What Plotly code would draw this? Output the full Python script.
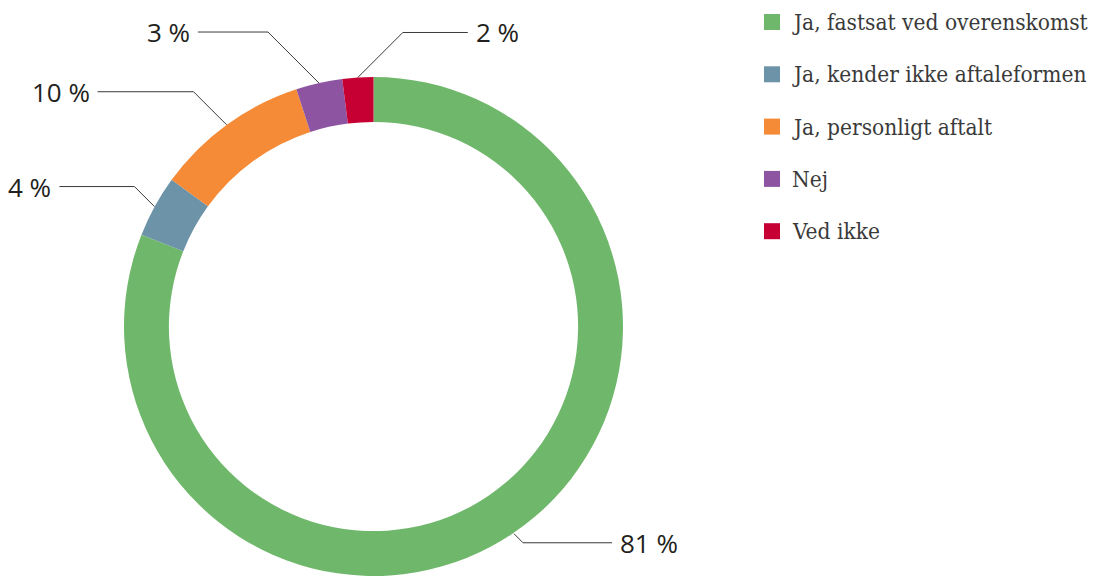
import math
import plotly.graph_objects as go

categories = ["Ja, fastsat ved overenskomst", "Ja, kender ikke aftaleformen",
              "Ja, personligt aftalt", "Nej", "Ved ikke"]
values = [81, 4, 10, 3, 2]
labels = ["81 %", "4 %", "10 %", "3 %", "2 %"]
colors = ["#6fb86b", "#6d93a8", "#f58a37", "#8d55a1", "#c60032"]

W, H = 1099, 576
cx, cy, R = 373.5, 327, 250   # donut centre and radius in px

# leader line layout per slice: side, diagonal length, horizontal length
sides = [1, -1, -1, -1, 1]
diag = [9, 20, 33, 51, 45]
horiz = [89, 75, 96, 70, 65]

label_font = dict(family="Open Sans, sans-serif", size=26, color="#231f20")
legend_font = dict(family="DejaVu Serif Condensed, DejaVu Serif, serif", size=22.5, color="#3a3a3a")


def px(x, y):
    return x / W, 1 - y / H


fig = go.Figure()
fig.add_trace(go.Pie(
    labels=categories, values=values, hole=0.82, sort=False,
    direction="clockwise", rotation=0,
    marker=dict(colors=colors, line=dict(width=0)),
    textinfo="none", hoverinfo="label+value", showlegend=False,
    domain=dict(x=[(cx - R) / W, (cx + R) / W], y=[max(0, (H - cy - R) / H), (H - cy + R) / H]),
))

total = sum(values)
cum = 0
shapes = []
annotations = []
for i, v in enumerate(values):
    a = math.radians((cum + v / 2) / total * 360)
    cum += v
    sx, sy = cx + R * math.sin(a), cy - R * math.cos(a)
    side = sides[i]
    vdir = 1 if math.cos(a) < 0 else -1
    ex, ey = sx + side * diag[i], sy + vdir * diag[i]
    hx = ex + side * horiz[i]
    pts = [px(sx, sy), px(ex, ey), px(hx, ey)]
    path = "M {} {} L {} {} L {} {}".format(*[c for p in pts for c in p])
    shapes.append(dict(type="path", xref="paper", yref="paper", path=path,
                       line=dict(color="#3a3a3a", width=1)))
    tx, ty = px(hx + side * 6, ey)
    annotations.append(dict(x=tx, y=ty, xref="paper", yref="paper", text=labels[i],
                            showarrow=False, font=label_font,
                            xanchor="left" if side > 0 else "right", yanchor="middle"))

# legend drawn by hand
for i, name in enumerate(categories):
    y0 = 22 + 52.3 * i
    x0, y0p = px(764, y0 - 8)
    x1, y1p = px(780, y0 + 8)
    shapes.append(dict(type="rect", xref="paper", yref="paper", x0=x0, x1=x1, y0=y1p, y1=y0p,
                       fillcolor=colors[i], line=dict(width=0)))
    tx, ty = px(790, y0)
    annotations.append(dict(x=tx, y=ty, xref="paper", yref="paper", text=name,
                            showarrow=False, font=legend_font, xanchor="left", yanchor="middle"))

fig.update_layout(
    width=W, height=H,
    margin=dict(l=0, r=0, t=0, b=0),
    paper_bgcolor="white", plot_bgcolor="white",
    shapes=shapes, annotations=annotations,
    showlegend=False,
)

fig.write_html("out.html", config={"displayModeBar": False},
               post_script="document.body.style.margin='0';")
